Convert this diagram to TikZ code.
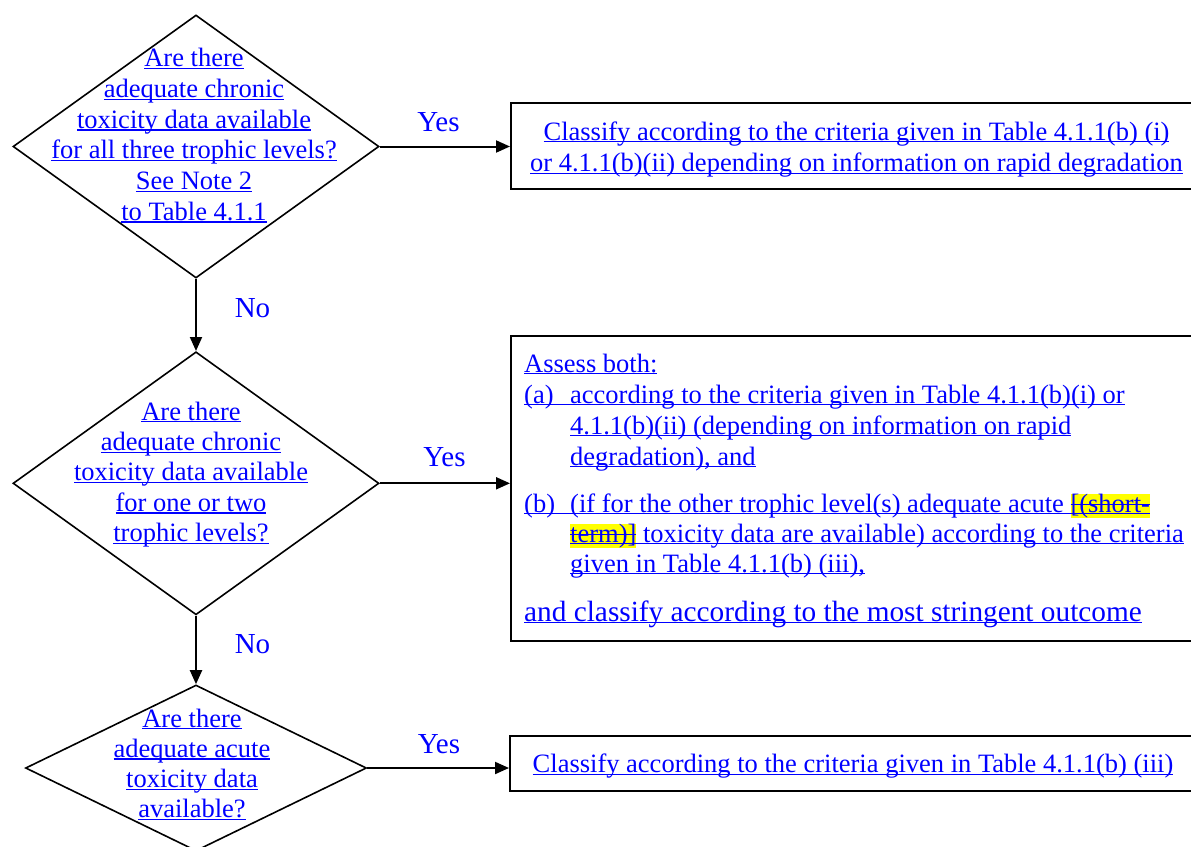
\documentclass[tikz,border=0pt]{standalone}
\usepackage{fontspec}
\setmainfont{Liberation Serif}
\usetikzlibrary{shapes.geometric,arrows.meta}
\definecolor{lnk}{RGB}{0,0,255}
\definecolor{hlyellow}{RGB}{255,255,0}
\newcommand\ulx[1]{\setbox0\hbox{#1}\rlap{\color{lnk}\rule[-2.4pt]{\wd0}{1.3pt}}\box0}
\newcommand\stx[1]{\setbox0\hbox{#1}\rlap{\color{lnk}\rule[0.26em]{\wd0}{1.1pt}}\box0}
\newcommand\hlx[1]{{\setlength\fboxsep{0pt}\colorbox{hlyellow}{\ulx{\stx{#1}}}}}
\tikzset{
  dia/.style={draw, diamond, line width=1.6pt, inner sep=0pt},
  bx/.style={draw, rectangle, line width=2pt, inner sep=0pt},
  tl/.style={text=lnk, font=\fontsize{26.5}{30}\selectfont, inner sep=0pt, anchor=base},
  tll/.style={tl, anchor=base west},
  big/.style={tll, font=\fontsize{29.3}{32}\selectfont},
  yn/.style={text=lnk, font=\fontsize{29}{32}\selectfont, inner sep=0pt, anchor=base},
  conn/.style={line width=2pt, -{Triangle[length=14pt,width=12pt]}},
}
\begin{document}
\begin{tikzpicture}[x=1pt,y=-1pt]
\useasboundingbox (0,0) rectangle (1191,846);
\clip (0,0) rectangle (1191,846);
% diamonds
\node[dia, minimum width=366pt, minimum height=263pt] (d1) at (196,146.5) {};
\node[dia, minimum width=366pt, minimum height=263pt] (d2) at (196,483.3) {};
\node[dia, minimum width=341pt, minimum height=166pt] (d3) at (196,768) {};
% boxes
\node[bx, minimum width=689pt, minimum height=86pt] (b1) at (855.5,146) {};
\node[bx, minimum width=689pt, minimum height=305pt] (b2) at (855.5,488.5) {};
\node[bx, minimum width=690pt, minimum height=55pt] (b3) at (855,763.5) {};
% diamond texts
\foreach \t [count=\i] in {Are there, adequate chronic, toxicity data available, for all three trophic levels?, See Note 2, to Table 4.1.1}
  \node[tl] (d1t\i) at (194,{66.7+30.7*(\i-1)}) {\ulx{\t}};
\foreach \t [count=\i] in {Are there, adequate chronic, toxicity data available, for one or two, trophic levels?}
  \node[tl] (d2t\i) at (191,{420+30.4*(\i-1)}) {\ulx{\t}};
\foreach \t [count=\i] in {Are there, adequate acute, toxicity data, available?}
  \node[tl] (d3t\i) at (192,{727+30.3*(\i-1)}) {\ulx{\t}};
% box 1 text
\node[tl] (b1t1) at (856.5,140) {\ulx{Classify according to the criteria given in Table 4.1.1(b) (i)}};
\node[tl] (b1t2) at (856.5,171.5) {\ulx{or 4.1.1(b)(ii) depending on information on rapid degradation}};
% box 2 text
\node[tll] (b2t1) at (524,372) {\ulx{Assess both:}};
\node[tll] (b2t2) at (524,403) {\ulx{\makebox[46pt][l]{(a)}according to the criteria given in Table 4.1.1(b)(i) or}};
\node[tll] (b2t3) at (570,434) {\ulx{4.1.1(b)(ii) (depending on information on rapid}};
\node[tll] (b2t4) at (570,465) {\ulx{degradation), and}};
\node[tll] (b2t5) at (524,512) {\ulx{\makebox[46pt][l]{(b)}(if for the other trophic level(s) adequate acute\ }\hlx{[(short-}};
\node[tll] (b2t6) at (570,542) {\hlx{term)]}\ulx{\ toxicity data are available) according to the criteria}};
\node[tll] (b2t7) at (570,572) {\ulx{given in Table 4.1.1(b) (iii),}};
\node[big] (b2t8) at (524,621) {\ulx{and classify according to the most stringent outcome}};
% box 3 text
\node[tl] (b3t1) at (853,772.5) {\ulx{Classify according to the criteria given in Table 4.1.1(b) (iii)}};
% connectors
\draw[conn] (d1.east) -- (d1.east -| b1.west);
\draw[conn] (d2.east) -- (d2.east -| b2.west);
\draw[conn] (d3.east) -- (d3.east -| b3.west);
\draw[conn] (d1.south) -- (d2.north);
\draw[conn] (d2.south) -- (d3.north);
% labels
\node[yn] (y1) at (438.5,131.7) {Yes};
\node[yn] (y2) at (444.5,466.7) {Yes};
\node[yn] (y3) at (439,753.3) {Yes};
\node[yn] (n1) at (252.5,317.5) {No};
\node[yn] (n2) at (252.5,653.3) {No};
\end{tikzpicture}
\end{document}
